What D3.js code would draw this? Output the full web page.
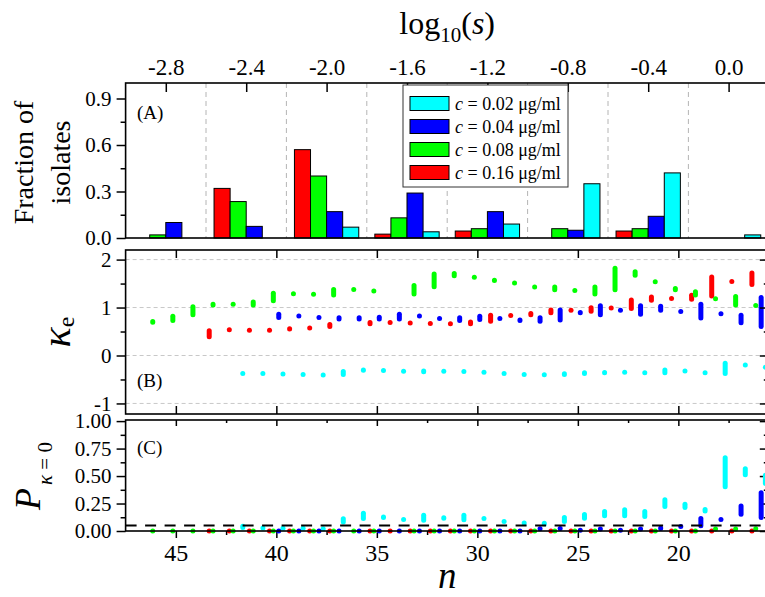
<!DOCTYPE html>
<html>
<head>
<meta charset="utf-8">
<script src="https://cdn.jsdelivr.net/npm/d3@7"></script>
<style>
  body { margin: 0; background: #fff; }
  svg { display: block; }
  text { font-family: "Liberation Serif", "Times New Roman", serif; fill: #000; }
</style>
</head>
<body>
<svg id="chart" width="765" height="597"></svg>
<script>
// ---------- data ----------
const concLabels = ["0.02", "0.04", "0.08", "0.16"];
const concColors = { "0.02": "#00ffff", "0.04": "#0000ff", "0.08": "#00ff00", "0.16": "#ff0000" };

// (A) fraction of isolates per log10(s) bin
const logSBins = [-2.8, -2.4, -2.0, -1.6, -1.2, -0.8, -0.4, 0.0];
const logSEdges = [-2.6, -2.2, -1.8, -1.4, -1.0, -0.6, -0.2];
const fracC002 = [0, 0, 0.07, 0.04, 0.09, 0.35, 0.42, 0.02];
const fracC004 = [0.10, 0.075, 0.17, 0.29, 0.17, 0.05, 0.14, 0];
const fracC008 = [0.02, 0.235, 0.40, 0.13, 0.06, 0.06, 0.06, 0];
const fracC016 = [0, 0.32, 0.57, 0.025, 0.045, 0, 0.045, 0];

// (B) kappa_e ranges [low, high] and (C) P(kappa=0) ranges, per n
const nC002 = [42, 41, 40, 39, 38, 37, 36, 35, 34, 33, 32, 31, 30, 29, 28, 27, 26, 25, 24, 23, 22, 21, 20, 19, 18, 17, 16];
const kapC002 = [[-0.41,-0.34],[-0.41,-0.34],[-0.42,-0.35],[-0.43,-0.36],[-0.45,-0.36],[-0.45,-0.28],[-0.36,-0.25],[-0.35,-0.28],[-0.36,-0.30],[-0.39,-0.27],[-0.37,-0.29],[-0.38,-0.29],[-0.38,-0.32],[-0.41,-0.34],[-0.43,-0.36],[-0.45,-0.35],[-0.45,-0.33],[-0.43,-0.31],[-0.41,-0.30],[-0.40,-0.30],[-0.40,-0.32],[-0.41,-0.25],[-0.36,-0.29],[-0.40,-0.32],[-0.43,-0.11],[-0.24,-0.16],[-0.29,-0.20]];
const pC002 = [[0.01,0.065],[0.01,0.045],[0.01,0.04],[0.01,0.04],[0.0,0.04],[0.06,0.135],[0.09,0.185],[0.10,0.15],[0.085,0.125],[0.075,0.166],[0.094,0.143],[0.08,0.166],[0.09,0.136],[0.064,0.11],[0.05,0.094],[0.04,0.094],[0.064,0.145],[0.094,0.173],[0.115,0.2],[0.115,0.215],[0.11,0.2],[0.2,0.306],[0.19,0.266],[0.16,0.218],[0.38,0.69],[0.49,0.59],[0.41,0.53]];

const nC004 = [40, 39, 38, 37, 36, 35, 34, 33, 32, 31, 30, 29, 28, 27, 26, 25, 24, 23, 22, 21, 20, 19, 18, 17, 16];
const kapC004 = [[0.74,0.91],[0.78,0.87],[0.75,0.83],[0.71,0.84],[0.71,0.84],[0.71,0.85],[0.71,0.91],[0.78,0.87],[0.73,0.81],[0.68,0.84],[0.70,0.87],[0.73,0.81],[0.68,0.79],[0.66,0.84],[0.69,1.00],[0.84,0.95],[0.80,1.09],[0.91,0.98],[0.81,1.09],[0.89,1.08],[0.87,0.96],[0.73,1.12],[0.83,0.91],[0.63,0.89],[0.55,1.26]];
const pC004 = [[0,0],[0,0],[0,0],[0,0],[0,0],[0,0],[0,0],[0,0],[0,0],[0,0],[0,0],[0,0],[0,0],[0,0.04],[0,0.045],[0,0.015],[0,0.035],[0,0.015],[0,0.035],[0,0.05],[0.02,0.06],[0.025,0.136],[0.085,0.125],[0.13,0.25],[0.10,0.37]];

const nC008 = [46, 45, 44, 43, 42, 41, 40, 39, 38, 37, 36, 35, 33, 32, 31, 30, 29, 28, 27, 26, 25, 24, 23, 22, 21, 20, 19, 18, 17, 16];
const kapC008 = [[0.64,0.76],[0.68,0.87],[0.80,1.07],[1.00,1.12],[1.04,1.10],[1.00,1.17],[1.09,1.35],[1.25,1.33],[1.23,1.32],[1.21,1.43],[1.33,1.42],[1.30,1.39],[1.23,1.51],[1.38,1.75],[1.61,1.76],[1.60,1.66],[1.51,1.62],[1.46,1.56],[1.39,1.47],[1.32,1.48],[1.32,1.39],[1.23,1.48],[1.32,1.87],[1.62,1.80],[1.51,1.57],[1.32,1.45],[1.21,1.38],[1.14,1.23],[1.00,1.28],[1.00,1.09]];
const pC008 = [[0,0],[0,0],[0,0],[0,0],[0,0],[0,0],[0,0],[0,0],[0,0],[0,0],[0,0],[0,0],[0,0],[0,0],[0,0],[0,0],[0,0],[0,0],[0,0],[0,0],[0,0],[0,0],[0,0],[0,0],[0,0],[0,0],[0,0],[0,0.035],[0,0.035],[0,0.04]];

const nC016 = [43, 42, 41, 40, 39, 38, 37, 35, 34, 33, 32, 31, 30, 29, 28, 27, 26, 25, 24, 23, 22, 21, 20, 19, 18, 17, 16];
const kapC016 = [[0.34,0.57],[0.50,0.57],[0.49,0.56],[0.48,0.57],[0.50,0.61],[0.53,0.62],[0.55,0.70],[0.61,0.74],[0.65,0.73],[0.64,0.72],[0.63,0.70],[0.62,0.70],[0.61,0.75],[0.66,0.89],[0.79,0.88],[0.80,0.93],[0.84,1.00],[0.91,0.98],[0.87,1.05],[0.95,1.03],[0.93,1.21],[1.10,1.27],[1.15,1.23],[1.12,1.31],[1.19,1.69],[1.51,1.58],[1.43,1.77]];
const pC016 = nC016.map(() => [0, 0]);

const pThreshold = 0.05;

// tick values
const logSTicks = [-2.8, -2.4, -2.0, -1.6, -1.2, -0.8, -0.4, 0.0];
const nTicks = [45, 40, 35, 30, 25, 20];
const nMinorTicks = [42.5, 37.5, 32.5, 27.5, 22.5, 17.5];
const fracTicks = [0, 0.3, 0.6, 0.9];
const fracMinor = [0.15, 0.45, 0.75];
const kapTicks = [-1, 0, 1, 2];
const kapMinor = [-0.5, 0.5, 1.5];
const pTicks = [0, 0.25, 0.5, 0.75, 1.0];
const pMinor = [0.125, 0.375, 0.625, 0.875];

// ---------- layout ----------
const left = 125.6, right = 768.8;
const panelA = { top: 83, bottom: 238 };
const panelB = { top: 250, bottom: 414 };
const panelC = { top: 420, bottom: 531 };
// small horizontal shift per series so overlapping ranges stay readable
const dodge = { "0.02": -0.33, "0.04": -0.12, "0.08": 0.15, "0.16": 0.34 };
const serif = '"Liberation Serif", "Times New Roman", serif';

const svg = d3.select("#chart");

const xN = d3.scaleLinear().domain([47.5, 15.5]).range([left, right]);
const xS = d3.scaleLinear().domain([-3.0, 0.2]).range([left, right]);
const yA = d3.scaleLinear().domain([0, 1]).range([panelA.bottom, panelA.top]);
const yB = d3.scaleLinear().domain([-1.22, 2.2]).range([panelB.bottom, panelB.top]);
const yC = d3.scaleLinear().domain([0, 1.01]).range([panelC.bottom, panelC.top]);

function styleAxis(g, size) {
  g.attr("font-family", serif).attr("font-size", size);
  g.select(".domain").remove();
  g.selectAll(".tick line").attr("stroke", "#000").attr("stroke-width", 1.5);
  g.selectAll(".tick text").attr("fill", "#000");
}
function frame(p) {
  svg.append("rect").attr("x", left).attr("y", p.top)
    .attr("width", right - left).attr("height", p.bottom - p.top)
    .attr("fill", "none").attr("stroke", "#000").attr("stroke-width", 1.6);
}

// ---------- panel A ----------
const gA = svg.append("g");
gA.selectAll("line.edge").data(logSEdges).join("line")
  .attr("x1", d => xS(d)).attr("x2", d => xS(d))
  .attr("y1", panelA.top).attr("y2", panelA.bottom)
  .attr("stroke", "#b4b4b4").attr("stroke-width", 1).attr("stroke-dasharray", "5,4");

const barOrder = ["0.16", "0.08", "0.04", "0.02"];
const fracBySeries = { "0.02": fracC002, "0.04": fracC004, "0.08": fracC008, "0.16": fracC016 };
const binW = xS(0.4) - xS(0);
const sub = d3.scaleBand().domain(barOrder).range([-binW * 0.4, binW * 0.4]).padding(0);
barOrder.forEach(c => {
  const vals = fracBySeries[c];
  gA.selectAll(null).data(logSBins.map((b, i) => ({ b, v: vals[i] })).filter(d => d.v > 0)).join("rect")
    .attr("x", d => xS(d.b) + sub(c))
    .attr("y", d => yA(d.v))
    .attr("width", sub.bandwidth())
    .attr("height", d => yA(0) - yA(d.v))
    .attr("fill", concColors[c]).attr("stroke", "#000").attr("stroke-width", 1);
});
frame(panelA);
styleAxis(gA.append("g").attr("transform", `translate(${left},0)`)
  .call(d3.axisLeft(yA).tickValues(fracTicks).tickSize(9).tickPadding(5).tickFormat(d => d.toFixed(1))), 21);
styleAxis(gA.append("g").attr("transform", `translate(${left},0)`)
  .call(d3.axisLeft(yA).tickValues(fracMinor).tickSize(5).tickFormat("")), 21);
styleAxis(gA.append("g").attr("transform", `translate(0,${panelA.top})`)
  .call(d3.axisTop(xS).tickValues(logSTicks).tickSize(-9).tickPadding(8).tickFormat(d => d.toFixed(1))), 23);

gA.append("text").attr("x", 137).attr("y", 119).attr("font-size", 19).text("(A)");

// legend
const leg = gA.append("g");
leg.append("rect").attr("x", 403).attr("y", 85).attr("width", 165).attr("height", 102)
  .attr("fill", "#fff").attr("stroke", "#333").attr("stroke-width", 1);
concLabels.forEach((c, i) => {
  const cy = 103.5 + i * 23;
  leg.append("rect").attr("x", 410).attr("y", cy - 7).attr("width", 39).attr("height", 14)
    .attr("fill", concColors[c]).attr("stroke", "#000").attr("stroke-width", 1);
  const t = leg.append("text").attr("x", 455).attr("y", cy + 6).attr("font-size", 18);
  t.append("tspan").attr("font-style", "italic").text("c");
  t.append("tspan").text(` = ${c} \u03bcg/ml`);
});

// ---------- panel B ----------
const gB = svg.append("g");
gB.selectAll("line.grid").data(kapTicks).join("line")
  .attr("x1", left).attr("x2", right).attr("y1", d => yB(d)).attr("y2", d => yB(d))
  .attr("stroke", "#c8c8c8").attr("stroke-width", 1).attr("stroke-dasharray", "4,3");

const markW = 5;
function drawRanges(g, ns, ranges, c, yScale) {
  g.selectAll(null).data(ns.map((n, i) => ({ n, lo: ranges[i][0], hi: ranges[i][1] }))).join("rect")
    .attr("x", d => xN(d.n + dodge[c]) - markW / 2)
    .attr("y", d => {
      const y0 = yScale(d.lo), y1 = yScale(d.hi), h = Math.max(markW, y0 - y1);
      return (y0 + y1) / 2 - h / 2;
    })
    .attr("width", markW)
    .attr("height", d => Math.max(markW, yScale(d.lo) - yScale(d.hi)))
    .attr("rx", markW / 2).attr("ry", markW / 2)
    .attr("fill", concColors[c]);
}
drawRanges(gB, nC002, kapC002, "0.02", yB);
drawRanges(gB, nC004, kapC004, "0.04", yB);
drawRanges(gB, nC016, kapC016, "0.16", yB);
drawRanges(gB, nC008, kapC008, "0.08", yB);
frame(panelB);
styleAxis(gB.append("g").attr("transform", `translate(${left},0)`)
  .call(d3.axisLeft(yB).tickValues(kapTicks).tickSize(9).tickPadding(5).tickFormat(d => String(d))), 21);
styleAxis(gB.append("g").attr("transform", `translate(${left},0)`)
  .call(d3.axisLeft(yB).tickValues(kapMinor).tickSize(5).tickFormat("")), 21);
styleAxis(gB.append("g").attr("transform", `translate(${right},0)`)
  .call(d3.axisRight(yB).tickValues(kapTicks).tickSize(-9).tickFormat("")), 21);
styleAxis(gB.append("g").attr("transform", `translate(${right},0)`)
  .call(d3.axisRight(yB).tickValues(kapMinor).tickSize(-5).tickFormat("")), 21);
styleAxis(gB.append("g").attr("transform", `translate(0,${panelB.top})`)
  .call(d3.axisBottom(xN).tickValues(nTicks).tickSize(8).tickFormat("")), 21);
styleAxis(gB.append("g").attr("transform", `translate(0,${panelB.bottom})`)
  .call(d3.axisTop(xN).tickValues(nTicks).tickSize(8).tickFormat("")), 21);
gB.append("text").attr("x", 137).attr("y", 387).attr("font-size", 19).text("(B)");

// ---------- panel C ----------
const gC = svg.append("g");
frame(panelC);
styleAxis(gC.append("g").attr("transform", `translate(${left},0)`)
  .call(d3.axisLeft(yC).tickValues(pTicks).tickSize(9).tickPadding(5).tickFormat(d => d.toFixed(2))), 21);
styleAxis(gC.append("g").attr("transform", `translate(${left},0)`)
  .call(d3.axisLeft(yC).tickValues(pMinor).tickSize(5).tickFormat("")), 21);
styleAxis(gC.append("g").attr("transform", `translate(${right},0)`)
  .call(d3.axisRight(yC).tickValues(pTicks).tickSize(-9).tickFormat("")), 21);
styleAxis(gC.append("g").attr("transform", `translate(${right},0)`)
  .call(d3.axisRight(yC).tickValues(pMinor).tickSize(-5).tickFormat("")), 21);
styleAxis(gC.append("g").attr("transform", `translate(0,${panelC.top})`)
  .call(d3.axisBottom(xN).tickValues(nTicks).tickSize(6).tickFormat("")), 21);
styleAxis(gC.append("g").attr("transform", `translate(0,${panelC.top})`)
  .call(d3.axisBottom(xN).tickValues(nMinorTicks).tickSize(3).tickFormat("")), 21);
styleAxis(gC.append("g").attr("transform", `translate(0,${panelC.bottom})`)
  .call(d3.axisBottom(xN).tickValues(nTicks).tickSize(7).tickPadding(6).tickFormat(d => String(d))), 24);
styleAxis(gC.append("g").attr("transform", `translate(0,${panelC.bottom})`)
  .call(d3.axisBottom(xN).tickValues(nMinorTicks).tickSize(4).tickFormat("")), 24);

drawRanges(gC, nC002, pC002, "0.02", yC);
drawRanges(gC, nC004, pC004, "0.04", yC);
drawRanges(gC, nC016, pC016, "0.16", yC);
drawRanges(gC, nC008, pC008, "0.08", yC);
gC.append("line").attr("x1", left).attr("x2", right)
  .attr("y1", yC(pThreshold)).attr("y2", yC(pThreshold))
  .attr("stroke", "#000").attr("stroke-width", 2).attr("stroke-dasharray", "11,8.5");
gC.append("text").attr("x", 137).attr("y", 454).attr("font-size", 19).text("(C)");

// ---------- axis titles ----------
const title = svg.append("text").attr("x", (left + right) / 2).attr("y", 34)
  .attr("text-anchor", "middle").attr("font-size", 32);
title.append("tspan").text("log");
title.append("tspan").attr("font-size", 21).attr("dy", 8).text("10");
title.append("tspan").attr("dy", -8).text("(");
title.append("tspan").attr("font-style", "italic").text("s");
title.append("tspan").text(")");

svg.append("text").attr("transform", `translate(33,${(panelA.top + panelA.bottom) / 2 + 2}) rotate(-90)`)
  .attr("text-anchor", "middle").attr("font-size", 28).text("Fraction of");
svg.append("text").attr("transform", `translate(70,${(panelA.top + panelA.bottom) / 2 + 2}) rotate(-90)`)
  .attr("text-anchor", "middle").attr("font-size", 28).text("isolates");

const kLab = svg.append("text").attr("transform", "translate(70,332) rotate(-90)")
  .attr("text-anchor", "middle");
kLab.append("tspan").attr("font-size", 42).attr("font-style", "italic").text("\u03ba");
kLab.append("tspan").attr("font-size", 24).attr("dy", 4).text("e");

const pLab = svg.append("text").attr("transform", "translate(40,476) rotate(-90)")
  .attr("text-anchor", "middle");
pLab.append("tspan").attr("font-size", 36).attr("font-style", "italic").text("P");
pLab.append("tspan").attr("font-size", 21).attr("dy", 12).attr("dx", 3).attr("font-style", "italic").text("\u03ba");
pLab.append("tspan").attr("font-size", 21).text(" = 0");

svg.append("text").attr("x", (left + right) / 2).attr("y", 588)
  .attr("text-anchor", "middle").attr("font-size", 37).attr("font-style", "italic").text("n");
</script>
</body>
</html>
